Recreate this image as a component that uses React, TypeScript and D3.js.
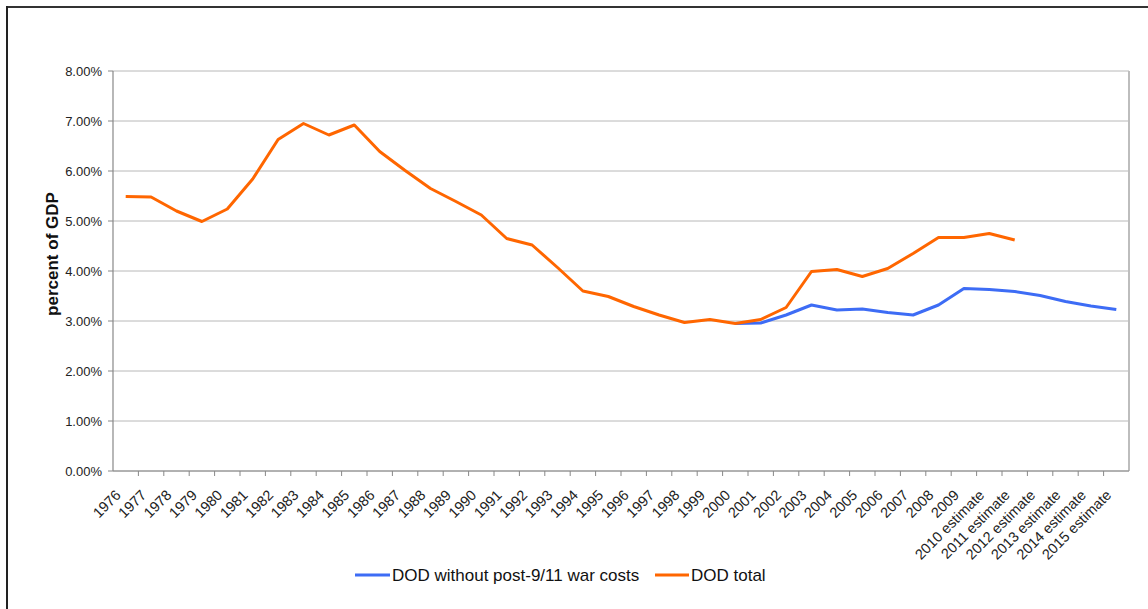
import * as d3 from 'd3';

const years = [
  '1976', '1977', '1978', '1979', '1980', '1981', '1982', '1983', '1984', '1985',
  '1986', '1987', '1988', '1989', '1990', '1991', '1992', '1993', '1994', '1995',
  '1996', '1997', '1998', '1999', '2000', '2001', '2002', '2003', '2004', '2005',
  '2006', '2007', '2008', '2009', '2010 estimate', '2011 estimate', '2012 estimate',
  '2013 estimate', '2014 estimate', '2015 estimate',
];

// DOD total, percent of GDP (ends at 2011 estimate)
const dodTotal = [
  5.49, 5.48, 5.20, 4.99, 5.24, 5.84, 6.63, 6.95, 6.72, 6.92,
  6.39, 6.01, 5.65, 5.39, 5.12, 4.65, 4.52, 4.07, 3.60, 3.49,
  3.29, 3.12, 2.97, 3.03, 2.95, 3.03, 3.27, 3.99, 4.03, 3.89,
  4.05, 4.35, 4.67, 4.67, 4.75, 4.62, null, null, null, null,
];

// DOD without post-9/11 war costs (starts at 2000)
const dodBase = [
  null, null, null, null, null, null, null, null, null, null,
  null, null, null, null, null, null, null, null, null, null,
  null, null, null, null, 2.95, 2.96, 3.12, 3.32, 3.22, 3.24,
  3.17, 3.12, 3.32, 3.65, 3.63, 3.59, 3.51, 3.39, 3.30, 3.23,
];

const yTicks = [0, 1, 2, 3, 4, 5, 6, 7, 8];

const W = 1148;
const H = 609;
const PLOT = { left: 113, right: 1129, top: 71, bottom: 471 };
const ORANGE = '#ff6600';
const BLUE = '#3d6cf5';
const FONT = 'Liberation Sans, Arial, sans-serif';

export default function App() {
  const x = d3.scaleBand<string>().domain(years).range([PLOT.left, PLOT.right]).padding(0);
  const y = d3.scaleLinear().domain([0, 8]).range([PLOT.bottom, PLOT.top]);
  const cx = (d: string) => (x(d) ?? 0) + x.bandwidth() / 2;

  const line = d3.line<number | null>()
    .defined(v => v != null)
    .x((_, i) => cx(years[i]))
    .y(v => y(v as number));

  const fmt = d3.format('.2f');

  return (
    <svg width={W} height={H} style={{ position: 'absolute', left: 0, top: 0, background: '#fff' }}
      fontFamily={FONT}>
      <rect width={W} height={H} fill="#fff" />
      {/* outer frame */}
      <line x1={6} x2={W} y1={7} y2={7} stroke="#333" strokeWidth={2} />
      <line x1={7} x2={7} y1={6} y2={H} stroke="#222" strokeWidth={2} />

      {/* gridlines */}
      {yTicks.map(t => (
        <line key={t} x1={PLOT.left} x2={PLOT.right} y1={y(t)} y2={y(t)}
          stroke="#b8b8b8" strokeWidth={1} />
      ))}
      <line x1={PLOT.right} x2={PLOT.right} y1={PLOT.top} y2={PLOT.bottom}
        stroke="#bdbdbd" strokeWidth={2} />

      {/* y axis */}
      <line x1={PLOT.left} x2={PLOT.left} y1={PLOT.top} y2={PLOT.bottom} stroke="#888" strokeWidth={1.2} />
      {yTicks.map(t => (
        <g key={t}>
          <line x1={PLOT.left - 5} x2={PLOT.left} y1={y(t)} y2={y(t)} stroke="#888" />
          <text x={PLOT.left - 11} y={y(t)} dy="0.35em" textAnchor="end" fontSize={13} fill="#222">
            {fmt(t)}%
          </text>
        </g>
      ))}
      <text transform={`translate(52,${254}) rotate(-90)`} textAnchor="middle" dy="0.35em"
        fontSize={17} fontWeight="bold" fill="#111">percent of GDP</text>

      {/* x axis */}
      <line x1={PLOT.left} x2={PLOT.right} y1={PLOT.bottom} y2={PLOT.bottom} stroke="#888" strokeWidth={1.2} />
      {years.map((yr, i) => (
        <g key={yr}>
          {i > 0 && (
            <line x1={x(yr)} x2={x(yr)} y1={PLOT.bottom} y2={PLOT.bottom + 5} stroke="#888" />
          )}
          <text transform={`translate(${cx(yr) - 4},${PLOT.bottom + 25}) rotate(-45)`}
            textAnchor="end" fontSize={14.5} fill="#222">{yr}</text>
        </g>
      ))}

      {/* series */}
      <path d={line(dodBase) ?? ''} fill="none" stroke={BLUE} strokeWidth={3} strokeLinejoin="round" />
      <path d={line(dodTotal) ?? ''} fill="none" stroke={ORANGE} strokeWidth={3} strokeLinejoin="round" />

      {/* legend */}
      <g fontSize={17} fill="#111">
        <line x1={355} x2={390} y1={575} y2={575} stroke={BLUE} strokeWidth={3} />
        <text x={392} y={575} dy="0.35em">DOD without post-9/11 war costs</text>
        <line x1={655} x2={689} y1={575} y2={575} stroke={ORANGE} strokeWidth={3} />
        <text x={691} y={575} dy="0.35em">DOD total</text>
      </g>
    </svg>
  );
}
